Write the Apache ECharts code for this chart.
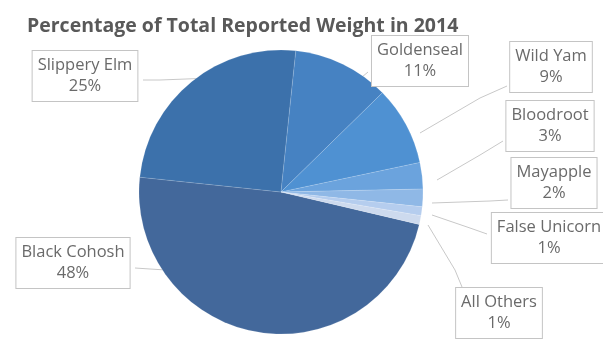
<!DOCTYPE html>
<html>
<head>
<meta charset="utf-8">
<script src="https://cdn.jsdelivr.net/npm/echarts@6/dist/echarts.min.js"></script>
<style>
html,body{margin:0;padding:0;background:#fff;}
#c{width:603px;height:339px;}
</style>
</head>
<body>
<div id="c"></div>
<script>
const categories = ['Black Cohosh','Slippery Elm','Goldenseal','Wild Yam','Bloodroot','Mayapple','False Unicorn','All Others'];
const percentValues = [48,25,11,9,3,2,1,1];
const sliceColors = ['#43689b','#3c71ab','#4682c2','#4f91d2','#6ba3dd','#8fb8e6','#b5cdee','#cddaee'];

// label box centres and leader line points (layout only)
const labelCenters = [[73,263],[85,76],[420,61],[551,67],[550,126],[554,183],[549,238],[499,313]];
const leaderPoints = [
  [[215,273],[150,269],[135,268]],
  [[212,78],[160,80],[143,80]],
  [[352,84],[362,77],[368,72]],
  [[420,133],[480,98],[507,86]],
  [[437,180],[480,155],[503,141]],
  [[432,203],[490,201],[508,200]],
  [[432,215],[470,228],[487,234]],
  [[428,225],[455,270],[462,287]]
];

const chart = echarts.init(document.getElementById('c'));
chart.setOption({
  animation:false,
  title:{
    text:'Percentage of Total Reported Weight in 2014',
    left:22, top:11,
    textStyle:{fontFamily:'Open Sans',fontWeight:'bold',fontSize:19.5,color:'#595959'}
  },
  series:[{
    type:'pie',
    center:[281,192],
    radius:[0,142],
    startAngle:-13.2,
    clockwise:true,
    data:categories.map((n,i)=>({name:n,value:percentValues[i],itemStyle:{color:sliceColors[i]}})),
    itemStyle:{borderColor:'rgba(255,255,255,0.25)',borderWidth:0.5},
    label:{
      show:true,
      position:'outside',
      formatter:'{b}\n{c}%',
      fontFamily:'Open Sans',
      fontSize:16.5,
      lineHeight:21,
      color:'#6a6a6a',
      align:'center',
      backgroundColor:'#fff',
      borderColor:'#c4c4c4',
      borderWidth:1,
      padding:[5,5,3,5]
    },
    labelLine:{show:true,lineStyle:{color:'#c8c8c8',width:1}},
    labelLayout:function(p){
      const i=p.dataIndex;
      return {x:labelCenters[i][0],y:labelCenters[i][1],align:'center',verticalAlign:'middle',labelLinePoints:leaderPoints[i]};
    }
  }]
});
</script>
</body>
</html>
